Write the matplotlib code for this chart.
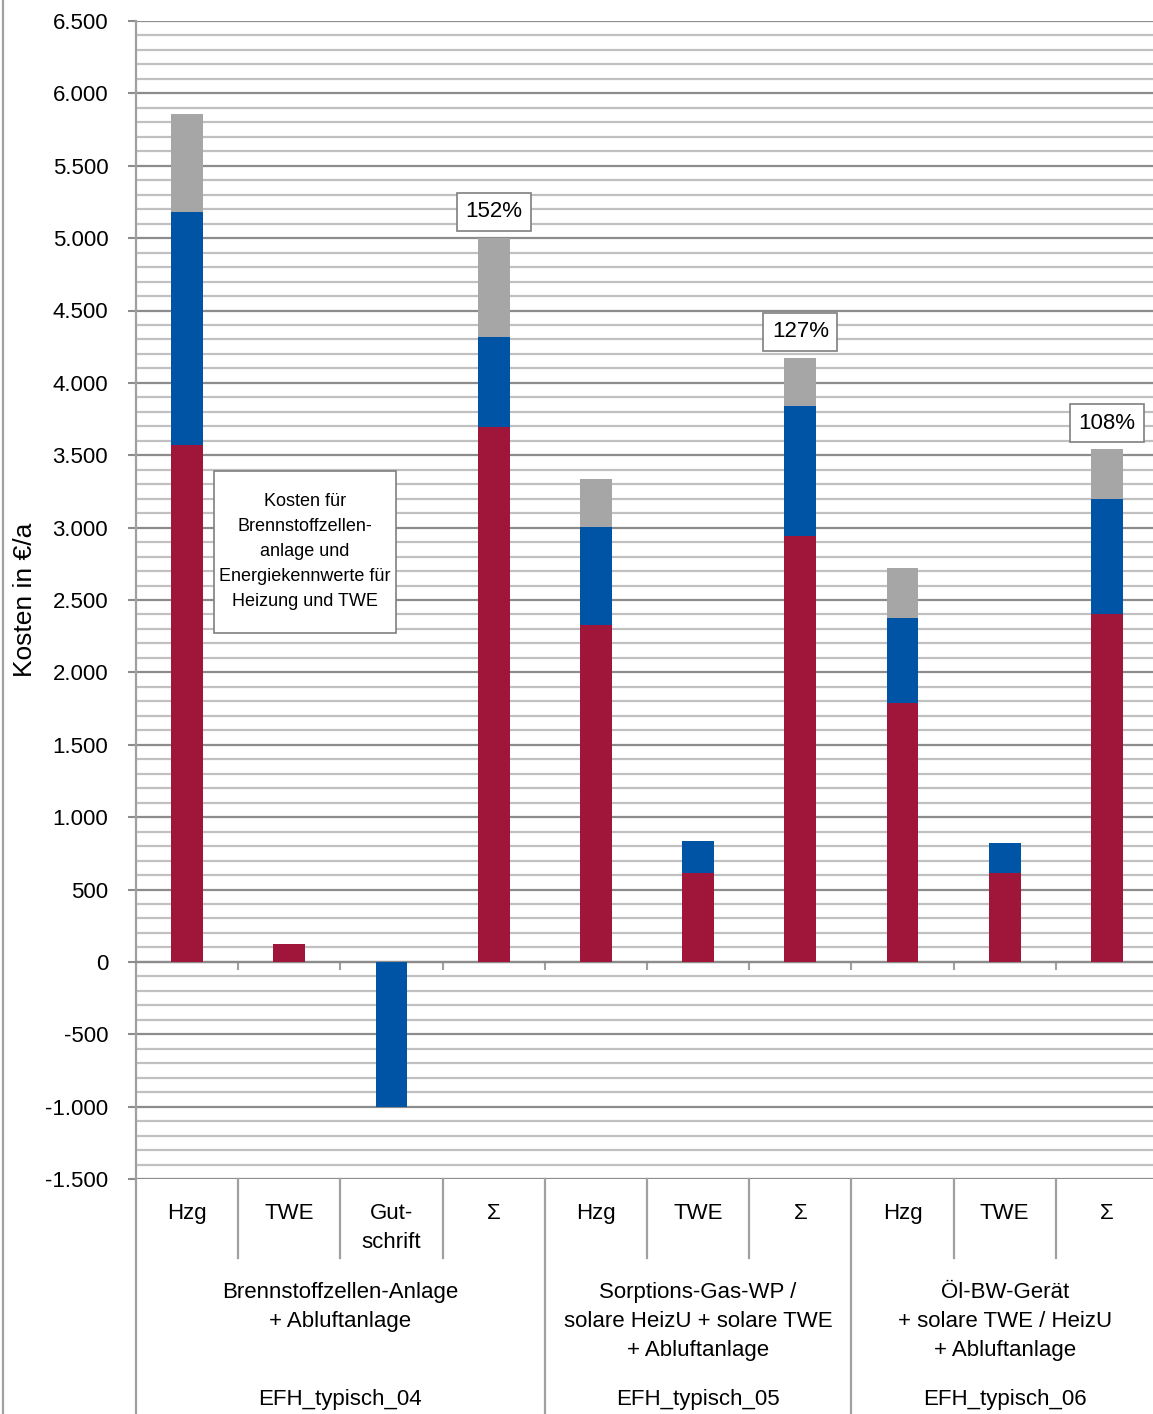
import numpy as np
import matplotlib
matplotlib.use("Agg")
import matplotlib.pyplot as plt
import matplotlib.transforms as mtransforms
from matplotlib.ticker import FuncFormatter, MultipleLocator
from matplotlib.patches import Rectangle

plt.rcParams['font.family'] = ['Liberation Sans Narrow', 'Liberation Sans', 'DejaVu Sans']

# data (EUR per year)
sub_labels = ["Hzg", "TWE", "Gut-\nschrift", "Σ", "Hzg", "TWE", "Σ", "Hzg", "TWE", "Σ"]
group_labels = ["Brennstoffzellen-Anlage\n+ Abluftanlage",
                "Sorptions-Gas-WP /\nsolare HeizU + solare TWE\n+ Abluftanlage",
                "Öl-BW-Gerät\n+ solare TWE / HeizU\n+ Abluftanlage"]
house_labels = ["EFH_typisch_04", "EFH_typisch_05", "EFH_typisch_06"]
group_slots = [(0, 3), (4, 6), (7, 9)]

energie = [3570, 125, 0, 3695, 2330, 615, 2945, 1790, 615, 2405]
kapital = [1610, 0, -1000, 620, 675, 220, 895, 585, 205, 790]
sonstige = [680, 0, 0, 685, 330, 0, 330, 345, 0, 345]
percent_idx = [3, 6, 9]
percent_txt = ["152%", "127%", "108%"]

c_red = "#A0153A"
c_blue = "#0054A6"
c_gray = "#A6A6A6"

W, H = 1153, 1414
fig = plt.figure(figsize=(W / 100, H / 100), dpi=100)
ax = fig.add_axes([136 / W, 1 - 1179 / H, (1158 - 136) / W, (1179 - 21) / H])

x = np.arange(len(sub_labels))
e = np.array(energie)
k = np.array(kapital)
s = np.array(sonstige)
bw = 0.31
ax.bar(x, e, bw, color=c_red, zorder=3)
k_bottom = np.where(k >= 0, e, 0)
ax.bar(x, k, bw, bottom=k_bottom, color=c_blue, zorder=3)
ax.bar(x, s, bw, bottom=e + np.clip(k, 0, None), color=c_gray, zorder=3)

ax.set_xlim(-0.5, len(x) - 0.5)
ax.set_ylim(-1500, 6500)
ax.yaxis.set_major_locator(MultipleLocator(500))
ax.yaxis.set_minor_locator(MultipleLocator(100))
ax.yaxis.set_major_formatter(FuncFormatter(lambda v, p: f"{int(v):,}".replace(",", ".")))
ax.grid(which="major", axis="y", color="#8c8c8c", lw=1.6, zorder=1)
ax.grid(which="minor", axis="y", color="#c0c0c0", lw=1.6, zorder=1)
ax.tick_params(axis="y", which="major", direction="out", length=6, width=1.5,
               color="#8c8c8c", labelsize=16, pad=14)
ax.tick_params(axis="y", which="minor", length=0)

ax.spines["top"].set_visible(False)
ax.spines["right"].set_visible(False)
ax.spines["left"].set_color("#a0a0a0")
ax.spines["left"].set_linewidth(1.6)
ax.spines["bottom"].set_position(("data", 0))
ax.spines["bottom"].set_color("#8c8c8c")
ax.spines["bottom"].set_linewidth(1.6)
ax.set_xticks(np.arange(0.5, len(x) - 0.5, 1.0))
ax.set_xticklabels([])
ax.tick_params(axis="x", direction="out", length=6, width=1.5, color="#a0a0a0")

ax.set_ylabel("Kosten in €/a", fontsize=19, labelpad=6)

# percentage labels over the sum bars
totals = e + np.clip(k, 0, None) + s
for i, t in zip(percent_idx, percent_txt):
    ax.annotate(t, (x[i], totals[i]), xytext=(0, 19), textcoords="offset points",
                ha="center", va="center", fontsize=16, zorder=5,
                bbox=dict(boxstyle="square,pad=0.38", fc="white", ec="#7f7f7f", lw=1.2))

# note box
ax.add_patch(Rectangle((0.267, 2275), 1.78, 1115, fc="white", ec="#7f7f7f", lw=1.2, zorder=4))
ax.text(1.155, 2835, "Kosten für\nBrennstoffzellen-\nanlage und\nEnergiekennwerte für\nHeizung und TWE",
        ha="center", va="center", fontsize=13, linespacing=1.6, zorder=5)

# multi-level category axis
tr = mtransforms.blended_transform_factory(ax.transData, fig.transFigure)
def fy(px):
    return 1 - px / H

for i, lab in enumerate(sub_labels):
    ax.text(x[i], fy(1203), lab, transform=tr, ha="center", va="top",
            fontsize=16, linespacing=1.5, clip_on=False)

sep_kw = dict(color="#a0a0a0", lw=1.6, transform=tr, clip_on=False)
group_edges = [g[0] - 0.5 for g in group_slots]
for b in np.arange(-0.5, len(x) - 0.5, 1.0):
    if b in group_edges:
        ax.plot([b, b], [fy(1179), fy(1414)], **sep_kw)
    else:
        ax.plot([b, b], [fy(1179), fy(1258)], **sep_kw)

for (a, b), g, h in zip(group_slots, group_labels, house_labels):
    xc = (a + b) / 2
    ax.text(xc, fy(1282), g, transform=tr, ha="center", va="top",
            fontsize=16, linespacing=1.5, clip_on=False)
    ax.text(xc, fy(1400), h, transform=tr, ha="center", va="center",
            fontsize=16, clip_on=False)

# outer border line on the left
fig.add_artist(plt.Line2D([2.5 / W, 2.5 / W], [0, 1], color="#a0a0a0", lw=1.6))

fig.savefig("out.png", dpi=100)
